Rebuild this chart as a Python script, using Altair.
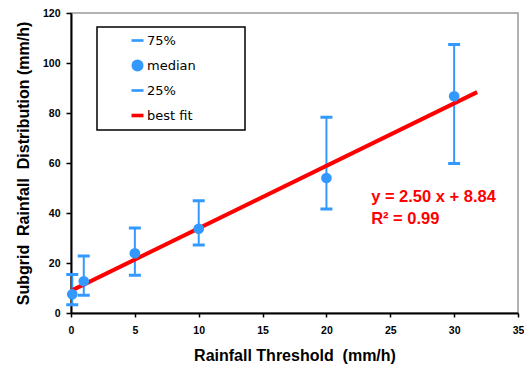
import altair as alt
import pandas as pd

# data
thresholds = [0.1, 1, 5, 10, 20, 30]
q75 = [15.4, 22.8, 34.0, 44.9, 78.3, 107.4]
median = [7.5, 12.7, 23.9, 33.7, 54.0, 86.7]
q25 = [3.3, 7.1, 15.1, 27.2, 41.6, 59.8]
fit_extent = [0.15, 31.8]

legend_labels = ["75%", "median", "25%", "best fit"]
eq_lines = ["y = 2.50 x + 8.84", "R\u00b2 = 0.99"]
eq_x = [23.5, 23.5]
eq_y = [44.5, 35.5]

BLUE = "#3399FF"
RED = "#FF0000"
FONT = "Liberation Sans"

df = pd.DataFrame({"threshold": thresholds, "q75": q75, "median": median, "q25": q25})
leg_df = pd.DataFrame({"series": legend_labels})
eq_df = pd.DataFrame({"label": eq_lines, "x": eq_x, "y": eq_y})

xscale = alt.Scale(domain=[0, 35], nice=False, zero=False)
yscale = alt.Scale(domain=[0, 120], nice=False)

xaxis = alt.Axis(
    values=list(range(0, 36, 5)), format="d", labelFlush=False,
    title="Rainfall Threshold\u00a0 (mm/h)", titlePadding=12,
)
yaxis = alt.Axis(
    values=list(range(0, 121, 5)),
    labelExpr="datum.value % 20 === 0 ? datum.label : ''",
    tickSize={"condition": {"test": "datum.value % 20 === 0", "value": 5}, "value": 3},
    title="Subgrid\u00a0 Rainfall\u00a0 Distribution (mm/h)", titlePadding=11,
)

base = alt.Chart(df)

rules = base.mark_rule(color=BLUE, strokeWidth=2).encode(
    x=alt.X("threshold:Q", scale=xscale, axis=xaxis),
    y=alt.Y("q25:Q", scale=yscale, axis=yaxis),
    y2="q75:Q",
)
cap_hi = base.mark_tick(color=BLUE, thickness=3, size=12, orient="horizontal", opacity=1).encode(
    x="threshold:Q", y="q75:Q"
)
cap_lo = base.mark_tick(color=BLUE, thickness=3, size=12, orient="horizontal", opacity=1).encode(
    x="threshold:Q", y="q25:Q"
)
points = base.mark_circle(color=BLUE, size=115, opacity=1).encode(
    x="threshold:Q", y="median:Q"
)
fit = base.transform_regression(
    "threshold", "median", extent=fit_extent
).mark_line(color=RED, strokeWidth=4).encode(x="threshold:Q", y="median:Q")

dash = "M-1,-0.22H1V0.22H-1Z"
dash_fit = "M-1,-0.3H1V0.3H-1Z"
legend_layer = alt.Chart(leg_df).mark_point(filled=True, opacity=0).encode(
    color=alt.Color(
        "series:N",
        scale=alt.Scale(domain=legend_labels, range=[BLUE, BLUE, BLUE, RED]),
        legend=alt.Legend(
            title="\u2800" * 5, titleOrient="right", titlePadding=0,
            titleFont="DejaVu Sans", titleFontSize=10.5,
            orient="none", legendX=26, legendY=14,
            padding=7, symbolOffset=27, labelOffset=3, rowPadding=11,
            fillColor="white", strokeColor="black",
            symbolOpacity=1, symbolSize=144, symbolStrokeWidth=0,
            labelFont="DejaVu Sans", labelFontSize=13, labelColor="black",
        ),
    ),
    shape=alt.Shape(
        "series:N",
        scale=alt.Scale(domain=legend_labels, range=[dash, "circle", dash, dash_fit]),
        legend=None,
    ),
)

eq_text = alt.Chart(eq_df).mark_text(
    align="left", baseline="alphabetic", font=FONT, fontSize=16.5,
    fontWeight="bold", color=RED,
).encode(x="x:Q", y="y:Q", text="label:N")

chart = alt.layer(rules, cap_hi, cap_lo, fit, points, eq_text, legend_layer).properties(
    width=447, height=300,
    padding={"left": 63, "top": 5, "right": 6, "bottom": 51},
    autosize=alt.AutoSizeParams(type="none"),
).configure_view(
    stroke="#999999", strokeWidth=1.5
).configure_axis(
    grid=False, domainColor="black", domainWidth=2, tickColor="black", tickWidth=1.5,
    labelFont=FONT, labelFontSize=10.5, labelFontWeight="bold", labelColor="black",
    titleFont=FONT, titleFontSize=16, titleFontWeight="bold", titleColor="black",
    labelPadding=6,
).configure_axisX(
    tickSize=4, labelPadding=8,
).configure_legend(
    strokeWidth=1.5,
)

chart.save("out.html", embed_options={"renderer": "svg", "actions": False})
